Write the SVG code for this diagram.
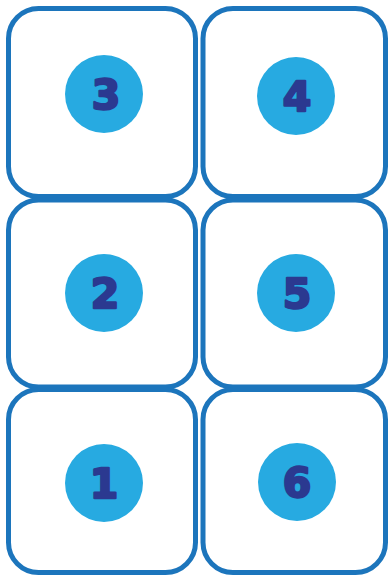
<svg xmlns="http://www.w3.org/2000/svg" width="388" height="576" viewBox="0 0 388 576">
<style>
.box{fill:#fff;stroke:#1c75bc;stroke-width:5}
.dot{fill:#27aae1}
.num{font-family:"DejaVu Sans",sans-serif;font-weight:bold;font-size:41px;fill:#2b3990;stroke:#2b3990;stroke-width:2.4;stroke-linejoin:round;text-anchor:middle}
</style>
<rect width="388" height="576" fill="#fff"/>
<g id="node3"><rect class="box" x="8.5" y="8.5" width="187" height="188" rx="30"/><circle class="dot" cx="104" cy="94" r="39"/><text class="num" x="106" y="109">3</text></g>
<g id="node4"><rect class="box" x="203" y="8.5" width="182.5" height="188" rx="30"/><circle class="dot" cx="296" cy="96" r="39"/><text class="num" x="297" y="111">4</text></g>
<g id="node2"><rect class="box" x="8.5" y="200" width="187" height="187" rx="30"/><circle class="dot" cx="104" cy="293" r="39"/><text class="num" x="105" y="308">2</text></g>
<g id="node5"><rect class="box" x="203" y="200" width="182.5" height="187" rx="30"/><circle class="dot" cx="296" cy="293" r="39"/><text class="num" x="297" y="308">5</text></g>
<g id="node1"><rect class="box" x="8.5" y="389.5" width="187" height="183" rx="30"/><circle class="dot" cx="104" cy="483" r="39"/><text class="num" x="104" y="498">1</text></g>
<g id="node6"><rect class="box" x="203" y="389.5" width="182.5" height="183" rx="30"/><circle class="dot" cx="297" cy="482" r="39"/><text class="num" x="297" y="497">6</text></g>
<g id="connectors"></g>
</svg>
